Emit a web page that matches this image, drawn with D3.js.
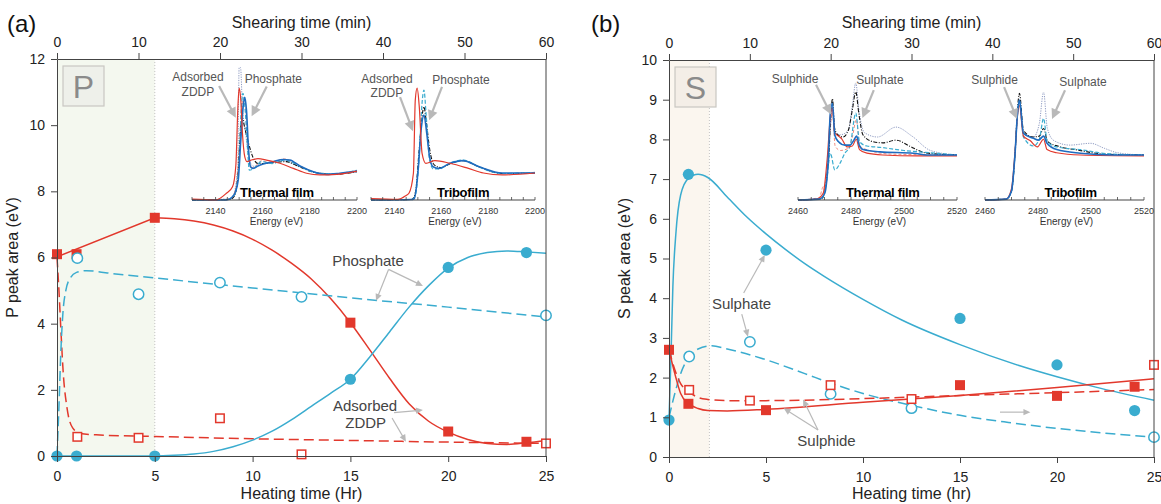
<!DOCTYPE html>
<html>
<head>
<meta charset="utf-8">
<script src="https://cdn.jsdelivr.net/npm/d3@7"></script>
<style>
  body { margin: 0; background: #fff; }
  svg { font-family: "Liberation Sans", Arial, Helvetica, sans-serif; }
</style>
</head>
<body>
<svg id="chart" width="1161" height="504"></svg>
<script>
// axis ticks
const heatTicks = [0, 5, 10, 15, 20, 25]
const shearTicks = [0, 10, 20, 30, 40, 50, 60]
const pTicks = [0, 2, 4, 6, 8, 10, 12]
const sTicks = [0, 1, 2, 3, 4, 5, 6, 7, 8, 9, 10]
const pEnergyTicks = [2140, 2160, 2180, 2200]
const sEnergyTicks = [2460, 2480, 2500, 2520]

// panel (a) P peak area, [hr, eV]
const zddpThermal = [[0, 6.1], [1, 6.1], [5, 7.2], [15, 4.03], [20, 0.74], [24, 0.43]]
const zddpTribo = [[1.04, 0.58], [4.17, 0.55], [8.33, 1.14], [12.5, 0.05], [25, 0.38]]
const phosThermal = [[0, 0], [1, 0], [5, 0], [15, 2.32], [20, 5.7], [24, 6.15]]
const phosTribo = [[1.04, 5.98], [4.17, 4.89], [8.33, 5.24], [12.5, 4.81], [25, 4.25]]

const zddpThermalFit = [[0, 6.02], [5, 7.2], [6, 7.17], [7, 7.1], [8, 6.98], [9, 6.8], [10, 6.55], [11, 6.22], [12, 5.82], [13, 5.35], [14, 4.75], [15, 4.03], [16, 3.2], [17, 2.35], [18, 1.58], [19, 1.05], [20, 0.72], [21, 0.5], [22, 0.38], [23, 0.35], [24, 0.4], [25, 0.47]]
const zddpTriboFit = [[0, 6.0], [0.1, 5.0], [0.2, 3.8], [0.32, 2.5], [0.5, 1.5], [0.8, 0.85], [1.2, 0.68], [2, 0.64], [5, 0.59], [10, 0.52], [15, 0.47], [20, 0.42], [25, 0.38]]
const phosThermalFit = [[0, 0], [5, 0], [6, 0.02], [7, 0.06], [8, 0.14], [9, 0.28], [10, 0.48], [11, 0.75], [12, 1.1], [13, 1.5], [14, 1.9], [15, 2.32], [16, 3.0], [17, 3.75], [18, 4.5], [19, 5.15], [20, 5.68], [21, 6.0], [22, 6.15], [23, 6.2], [24, 6.17], [25, 6.13]]
const phosTriboFit = [[0, 0], [0.1, 1.5], [0.2, 3.2], [0.3, 4.3], [0.45, 5.0], [0.7, 5.4], [1.0, 5.55], [1.5, 5.6], [3, 5.5], [5, 5.38], [10, 5.08], [15, 4.78], [20, 4.5], [25, 4.2]]

// panel (b) S peak area, [hr, eV]
const sulphateThermal = [[0, 0.93], [1, 7.12], [5, 5.21], [15, 3.49], [20, 2.32], [24, 1.17]]
const sulphateTribo = [[1.04, 2.53], [4.17, 2.9], [8.33, 1.59], [12.5, 1.23], [25, 0.5]]
const sulphideThermal = [[0, 2.7], [1, 1.34], [5, 1.18], [15, 1.81], [20, 1.54], [24, 1.77]]
const sulphideTribo = [[1.04, 1.69], [4.17, 1.42], [8.33, 1.81], [12.5, 1.46], [25, 2.32]]

const sulphateThermalFit = [[0, 0.93], [0.1, 2.5], [0.2, 4.3], [0.35, 5.6], [0.6, 6.6], [1.0, 7.02], [1.5, 7.12], [2, 7.04], [3, 6.55], [4, 6.05], [5, 5.62], [6, 5.23], [7, 4.87], [8, 4.55], [10, 3.97], [12, 3.45], [15, 2.83], [18, 2.31], [20, 2.02], [22, 1.76], [25, 1.43]]
const sulphateTriboFit = [[0, 1.0], [0.3, 1.6], [0.6, 2.1], [1, 2.5], [1.5, 2.72], [2.2, 2.8], [3, 2.72], [5, 2.45], [7, 2.1], [8.4, 1.85], [10, 1.6], [12.5, 1.3], [15, 1.05], [17.5, 0.87], [20, 0.72], [22.5, 0.6], [25, 0.5]]
const sulphideThermalFit = [[0, 2.7], [0.3, 2.1], [0.6, 1.6], [1, 1.35], [1.5, 1.22], [2, 1.17], [3, 1.16], [5, 1.2], [10, 1.38], [15, 1.55], [20, 1.75], [25, 1.97]]
const sulphideTriboFit = [[0, 2.7], [0.3, 2.2], [0.6, 1.85], [1, 1.65], [1.5, 1.5], [2, 1.45], [3, 1.42], [5, 1.42], [10, 1.47], [15, 1.55], [20, 1.62], [25, 1.7]]

// inset spectra, [eV, normalised absorbance]
const pThRed = [[2130, 0.03], [2140, 0], [2144.6, 0.25], [2147.2, 0.49], [2148.6, 1.28], [2149.5, 3.5], [2150, 4.14], [2150.7, 3.7], [2151.4, 2.47], [2152.4, 1.6], [2153.4, 1.42], [2155.2, 1.48], [2158, 1.53], [2161.6, 1.48], [2167.3, 1.36], [2173, 1.17], [2178.6, 0.99], [2184.3, 0.93], [2191.4, 0.95], [2200, 1.07]]
const pThBlue = [[2130, 0], [2144.6, 0], [2147.7, 0.18], [2149.6, 0.74], [2150.7, 2.22], [2151.7, 3.46], [2152.4, 3.8], [2153.1, 3.33], [2154, 1.85], [2154.8, 1.23], [2155.9, 1.17], [2158, 1.26], [2160.2, 1.33], [2164.4, 1.42], [2168.7, 1.5], [2171.5, 1.48], [2175.8, 1.26], [2181.5, 1.05], [2187.2, 0.95], [2192.8, 0.99], [2200, 1.07]]
const pThCyan = [[2130, 0], [2145, 0.02], [2148, 0.2], [2149.8, 1.2], [2150.8, 3.2], [2151.6, 3.95], [2152.5, 3.4], [2153.5, 2.0], [2154.3, 1.11], [2156, 1.15], [2159.5, 1.42], [2164, 1.35], [2169.4, 1.48], [2175, 1.28], [2182, 1.02], [2190, 0.97], [2200, 1.1]]
const pThBlack = [[2130, 0], [2146, 0.02], [2148, 0.15], [2149.5, 0.9], [2150.5, 2.5], [2151.3, 3.05], [2152.3, 2.7], [2154, 2.1], [2156, 1.55], [2158, 1.35], [2162, 1.35], [2166, 1.4], [2170, 1.42], [2175, 1.25], [2182, 1.02], [2190, 0.95], [2200, 1.05]]
const pThGray = [[2130, 0], [2147, 0.05], [2149.4, 1.2], [2150, 4.9], [2150.6, 4.9], [2151.4, 3.4], [2152.6, 2.6], [2154, 1.6], [2156, 1.25], [2160, 1.35], [2168, 1.45], [2176, 1.22], [2186, 0.96], [2200, 1.05]]
const pThPink = [[2130, 0], [2146, 0.03], [2148.5, 0.4], [2150.5, 2.4], [2151.8, 3.75], [2152.6, 3.6], [2153.6, 2.2], [2154.6, 1.3], [2156, 1.2], [2159.5, 1.45], [2163, 1.38], [2169, 1.52], [2175, 1.3], [2182, 1.03], [2190, 0.96], [2200, 1.08]]

const pTrRed = [[2130, 0.05], [2141.4, 0.02], [2145, 0.17], [2146.2, 0.25], [2148.1, 0.99], [2148.9, 3.7], [2149.7, 4.14], [2150.6, 3.46], [2151.8, 1.73], [2153.4, 1.36], [2157.3, 1.46], [2163.7, 1.36], [2171.6, 1.17], [2178, 1.0], [2186, 0.93], [2200, 1.0]]
const pTrBlue = [[2130, 0], [2147, 0.02], [2148.5, 0.05], [2150, 1.0], [2151.5, 2.7], [2152.6, 3.15], [2153.8, 2.47], [2155, 1.6], [2156.5, 1.23], [2158.9, 1.17], [2163.7, 1.36], [2169.2, 1.46], [2176.2, 1.23], [2186, 1.0], [2200, 1.0]]
const pTrCyan = [[2130, 0], [2147.5, 0.02], [2149, 0.2], [2150.5, 1.5], [2151.8, 3.6], [2152.6, 4.07], [2153.5, 3.2], [2155, 1.5], [2156.6, 1.15], [2159, 1.15], [2164, 1.38], [2169.5, 1.48], [2176, 1.22], [2186, 0.98], [2200, 1.02]]
const pTrBlack = [[2130, 0], [2147.5, 0.02], [2149, 0.3], [2150.5, 1.8], [2151.8, 3.1], [2152.6, 3.45], [2153.6, 2.9], [2155, 1.9], [2157, 1.3], [2160, 1.2], [2164, 1.35], [2169.5, 1.46], [2176, 1.23], [2186, 0.98], [2200, 1.0]]

const sThBlue = [[2460, 0], [2468, 0.02], [2470.1, 0.15], [2471.4, 0.89], [2472.2, 1.93], [2473, 2.15], [2473.9, 1.44], [2475.2, 1.3], [2477.7, 1.22], [2479.6, 1.22], [2481.1, 1.33], [2482.1, 1.42], [2483.1, 1.22], [2484.6, 1.12], [2491, 1.07], [2503.6, 1.04], [2508.6, 1.0], [2520, 1.0]]
const sThRed = [[2460, 0], [2467, 0.02], [2469.5, 0.15], [2471, 0.9], [2472.3, 1.9], [2473, 2.05], [2473.8, 1.5], [2475.3, 1.42], [2476.5, 1.36], [2478.5, 1.18], [2480.5, 1.2], [2482, 1.35], [2483.2, 1.12], [2486, 1.04], [2492, 1.0], [2505, 0.98], [2520, 0.98]]
const sThBlack = [[2460, 0], [2469, 0.03], [2471.5, 0.9], [2472.5, 2.0], [2473, 2.25], [2473.8, 1.6], [2475, 1.45], [2477, 1.4], [2479, 1.55], [2480.5, 2.0], [2481.8, 2.4], [2483, 1.9], [2484.5, 1.45], [2488, 1.3], [2492, 1.27], [2497, 1.33], [2502, 1.2], [2508, 1.05], [2520, 1.0]]
const sThGray = [[2460, 0], [2469, 0.03], [2471.5, 0.8], [2472.5, 1.8], [2473.2, 2.0], [2474, 1.5], [2476, 1.45], [2479, 1.55], [2480.5, 2.1], [2481.8, 2.6], [2483, 2.0], [2485, 1.5], [2490, 1.4], [2497, 1.62], [2503, 1.42], [2510, 1.1], [2520, 1.0]]
const sThCyan = [[2460, 0], [2469, 0.03], [2471, 0.5], [2472.2, 1.04], [2473.9, 0.67], [2475.8, 0.81], [2477.7, 1.04], [2479.6, 1.19], [2481.8, 1.93], [2483.2, 1.3], [2486, 1.2], [2491, 1.17], [2500, 1.1], [2510, 1.05], [2520, 1.0]]
const sThPink = [[2460, 0], [2468, 0.05], [2469.5, 0.3], [2470.5, 0.32], [2471.5, 1.0], [2472.5, 1.8], [2473, 2.0], [2474, 1.2], [2476, 1.1], [2479, 1.15], [2480.5, 1.4], [2482, 1.78], [2483.3, 1.2], [2487, 1.1], [2495, 1.02], [2520, 1.0]]

const sTrBlue = [[2460, 0], [2468, 0.02], [2470, 0.2], [2471.3, 1.0], [2472.3, 1.95], [2473, 2.22], [2474.5, 1.48], [2478.3, 1.37], [2480.2, 1.33], [2482.1, 1.42], [2483.4, 1.26], [2487.1, 1.12], [2496, 1.04], [2508.6, 1.0], [2520, 1.0]]
const sTrRed = [[2460, 0], [2468, 0.02], [2470, 0.25], [2471.3, 1.05], [2472.3, 1.9], [2473, 2.1], [2474.5, 1.42], [2477, 1.32], [2479.8, 1.18], [2482.1, 1.35], [2483.4, 1.12], [2487, 1.05], [2496, 1.0], [2520, 0.98]]
const sTrBlack = [[2460, 0], [2468, 0.02], [2470, 0.2], [2471.3, 1.0], [2472.3, 2.05], [2473, 2.37], [2474.5, 1.55], [2478, 1.4], [2480.5, 1.42], [2482.1, 1.59], [2483.6, 1.3], [2488, 1.19], [2495, 1.11], [2505, 1.02], [2520, 1.0]]
const sTrGray = [[2460, 0], [2468, 0.02], [2470, 0.2], [2471.3, 0.95], [2472.3, 1.9], [2473, 2.2], [2474.5, 1.5], [2478.3, 1.4], [2480.5, 1.7], [2482.1, 2.4], [2483.5, 1.6], [2486, 1.32], [2492, 1.22], [2499.8, 1.26], [2505, 1.15], [2510, 1.05], [2520, 1.0]]
const sTrCyan = [[2460, 0], [2468, 0.02], [2470, 0.2], [2471.3, 1.0], [2472.3, 1.95], [2473, 2.2], [2474.5, 1.4], [2478.3, 1.2], [2480.5, 1.35], [2482.1, 1.81], [2483.5, 1.3], [2487, 1.18], [2496, 1.12], [2506, 1.03], [2520, 1.0]]

const red = '#e2382c', cyan = '#3aaccf', blue = '#1f6cc0', ink = '#111', dots = '#8d9ac2', pink = '#f08b80'
const arrowGray = '#b9b9b9'

let svg = d3.select('#chart')

function arrow(g, x1, y1, x2, y2, w, hl, hw){
  let dx = x2 - x1, dy = y2 - y1, len = Math.hypot(dx, dy)
  let ux = dx / len, uy = dy / len
  let bx = x2 - ux * hl, by = y2 - uy * hl
  g.append('line')
    .attr('x1', x1).attr('y1', y1).attr('x2', bx + ux).attr('y2', by + uy)
    .attr('stroke', arrowGray).attr('stroke-width', w)
  g.append('polygon')
    .attr('points', [[x2, y2], [bx - uy * hw, by + ux * hw], [bx + uy * hw, by - ux * hw]].map(function(p){ return p.join(',') }).join(' '))
    .attr('fill', arrowGray)
}

function drawInset(g, c){
  let ix = d3.scaleLinear().domain(c.domain).range([c.x0, c.x1])
  let iy = d3.scaleLinear().domain([0, c.yMax]).range([200, 65])
  let line = d3.line().x(function(d){ return ix(d[0]) }).y(function(d){ return iy(d[1]) }).curve(d3.curveMonotoneX)

  c.series.forEach(function(s){
    g.append('path')
      .attr('d', line(s.data))
      .attr('fill', 'none')
      .attr('stroke', s.color)
      .attr('stroke-width', s.width || 1.2)
      .attr('stroke-dasharray', s.dash || null)
  })

  let ax = g.append('g').attr('transform', 'translate(0,200)')
  ax.append('line').attr('x1', c.x0).attr('x2', c.x1).attr('stroke', '#444').attr('stroke-width', 1)
  d3.range(c.domain[0], c.domain[1] + 0.1, 5).forEach(function(t){
    ax.append('line').attr('x1', ix(t)).attr('x2', ix(t)).attr('y1', 0).attr('y2', -3).attr('stroke', '#444').attr('stroke-width', 0.8)
  })
  c.ticks.forEach(function(t){
    ax.append('text').attr('x', ix(t)).attr('y', 14).attr('text-anchor', 'middle')
      .style('font-size', '9px').style('fill', '#333').text(t)
  })
  g.append('text').attr('x', (c.x0 + c.x1) / 2 + 2).attr('y', 225).attr('text-anchor', 'middle')
    .style('font-size', '10px').style('fill', '#333').text('Energy (eV)')
  g.append('text').attr('x', ix(c.titleAt)).attr('y', 197).attr('text-anchor', 'middle')
    .style('font-size', '13px').style('font-weight', 'bold').style('fill', '#000')
    .style('letter-spacing', '-0.3px').text(c.title)

  c.labels.forEach(function(l){
    g.append('text').attr('x', ix(l[0])).attr('y', iy(l[1]) + 4).attr('text-anchor', 'middle')
      .style('font-size', '12px').style('fill', '#555').text(l[2])
  })
  c.arrows.forEach(function(a){
    arrow(g, ix(a[0]), iy(a[1]), ix(a[2]), iy(a[3]), 2.2, 10, 5)
  })
}

function drawPanel(p){
  let g = svg.append('g')
  let x = d3.scaleLinear().domain([0, 25]).range([p.left, p.right])
  let xTop = d3.scaleLinear().domain([0, 60]).range([p.left, p.right])
  let y = d3.scaleLinear().domain([0, p.yMax]).range([p.bottom, p.top])

  // run-in region
  g.append('rect')
    .attr('x', x(0)).attr('y', y(p.yMax))
    .attr('width', x(p.shadeTo) - x(0)).attr('height', y(0) - y(p.yMax))
    .attr('fill', p.shadeFill)
  g.append('line')
    .attr('x1', x(p.shadeTo)).attr('x2', x(p.shadeTo)).attr('y1', y(p.yMax)).attr('y2', y(0))
    .attr('stroke', '#b5b5b5').attr('stroke-width', 0.8).attr('stroke-dasharray', '1,2')

  // element tag
  g.append('rect')
    .attr('x', x(0) + 6).attr('y', y(p.yMax) + 7).attr('width', 41).attr('height', 40)
    .attr('fill', p.tagFill).attr('stroke', '#c9c7c2').attr('stroke-width', 1.2)
  g.append('text')
    .attr('x', x(0) + 26.5).attr('y', y(p.yMax) + 39).attr('text-anchor', 'middle')
    .style('font-size', '32px').style('fill', '#8a8a8a').text(p.tag)

  // fitted curves
  let line = d3.line().x(function(d){ return x(d[0]) }).y(function(d){ return y(d[1]) }).curve(d3.curveMonotoneX)
  p.fits.forEach(function(f){
    let path = f.kink ? line.curve(d3.curveLinear)(f.data.slice(0, f.kink + 1)) + line.curve(d3.curveMonotoneX)(f.data.slice(f.kink)).replace(/^M/, 'L') : line.curve(d3.curveMonotoneX)(f.data)
    g.append('path')
      .attr('d', path)
      .attr('fill', 'none')
      .attr('stroke', f.color)
      .attr('stroke-width', 1.5)
      .attr('stroke-dasharray', f.dash ? '10,5' : null)
  })

  // insets
  p.insets.forEach(function(c){ drawInset(g, c) })

  // markers
  p.markers.forEach(function(m){
    let sel = g.selectAll(null).data(m.data)
    if(m.shape === 'circle'){
      sel.enter().append('circle')
        .attr('cx', function(d){ return x(d[0]) })
        .attr('cy', function(d){ return y(d[1]) })
        .attr('r', m.filled ? 5.6 : 5.2)
        .attr('fill', m.filled ? m.color : '#fff')
        .attr('stroke', m.color)
        .attr('stroke-width', m.filled ? 0 : 1.5)
    } else {
      let s = m.filled ? 10 : 8.5
      sel.enter().append('rect')
        .attr('x', function(d){ return x(d[0]) - s / 2 })
        .attr('y', function(d){ return y(d[1]) - s / 2 })
        .attr('width', s).attr('height', s)
        .attr('fill', m.filled ? m.color : '#fff')
        .attr('stroke', m.color)
        .attr('stroke-width', m.filled ? 0 : 1.5)
    }
  })

  // axes
  let xAxis = g.append('g').attr('class', 'axis')
    .attr('transform', 'translate(0,' + p.bottom + ')')
    .call(d3.axisBottom(x).tickValues(heatTicks).tickSize(6).tickSizeOuter(0).tickPadding(9))
  let topAxis = g.append('g').attr('class', 'axis')
    .attr('transform', 'translate(0,' + p.top + ')')
    .call(d3.axisTop(xTop).tickValues(shearTicks).tickSize(6).tickSizeOuter(0).tickPadding(6))
  let yAxis = g.append('g').attr('class', 'axis')
    .attr('transform', 'translate(' + p.left + ',0)')
    .call(d3.axisLeft(y).tickValues(p.yTicks).tickSize(6).tickSizeOuter(0).tickPadding(6))
  g.append('line')
    .attr('x1', p.right).attr('x2', p.right).attr('y1', p.top).attr('y2', p.bottom)
    .attr('stroke', '#444').attr('stroke-width', 1)

  g.selectAll('.axis text').style('font-size', '14px').style('fill', '#222').style('font-family', null)
  g.selectAll('.axis path, .axis line').attr('stroke', '#444')

  g.append('text').attr('x', (p.left + p.right) / 2).attr('y', 28).attr('text-anchor', 'middle')
    .style('font-size', '16px').style('fill', '#222').text('Shearing time (min)')
  g.append('text').attr('x', (p.left + p.right) / 2).attr('y', 499).attr('text-anchor', 'middle')
    .style('font-size', '16px').style('fill', '#222').text(p.xTitle)
  g.append('text')
    .attr('transform', 'translate(' + (p.left - 39) + ',' + ((p.top + p.bottom) / 2) + ') rotate(-90)')
    .attr('text-anchor', 'middle')
    .style('font-size', '16px').style('fill', '#222').text(p.yTitle)
  g.append('text').attr('x', p.panelX).attr('y', 32)
    .style('font-size', '24px').style('fill', '#111').text(p.panel)

  // annotations
  p.labels.forEach(function(l){
    g.append('text').attr('x', x(l[0])).attr('y', y(l[1]) + 5).attr('text-anchor', 'middle')
      .style('font-size', '15px').style('fill', '#444').text(l[2])
  })
  p.arrows.forEach(function(a){
    arrow(g, x(a[0]), y(a[1]), x(a[2]), y(a[3]), 1.2, 7, 3.2)
  })
}

drawPanel({
  panel: '(a)', panelX: 7, tag: 'P',
  left: 57, right: 546, top: 59, bottom: 456,
  yMax: 12, yTicks: pTicks, shadeTo: 5,
  shadeFill: '#f4f8ef', tagFill: '#eef0ea',
  xTitle: 'Heating time (Hr)', yTitle: 'P peak area (eV)',
  fits: [
    {data: zddpThermalFit, color: red, kink: 1},
    {data: zddpTriboFit, color: red, dash: true},
    {data: phosThermalFit, color: cyan},
    {data: phosTriboFit, color: cyan, dash: true}
  ],
  markers: [
    {data: zddpThermal, color: red, shape: 'square', filled: true},
    {data: zddpTribo, color: red, shape: 'square', filled: false},
    {data: phosThermal, color: cyan, shape: 'circle', filled: true},
    {data: phosTribo, color: cyan, shape: 'circle', filled: false}
  ],
  labels: [[15.9, 5.89, 'Phosphate'], [15.75, 1.51, 'Adsorbed'], [15.78, 1.0, 'ZDDP']],
  arrows: [[16.95, 5.64, 18.71, 5.14], [16.95, 5.64, 16.31, 4.69], [17.23, 1.31, 18.71, 1.39], [17.13, 1.15, 17.84, 0.43]],
  insets: [
    {x0: 192, x1: 357, domain: [2130, 2200], yMax: 5, ticks: pEnergyTicks, title: 'Thermal film', titleAt: 2166,
     series: [
       {data: pThGray, color: dots, dash: '1.2,1.2', width: 1},
       {data: pThPink, color: pink, dash: '3,2', width: 1},
       {data: pThBlack, color: ink, dash: '4,1.5,1,1.5', width: 1.1},
       {data: pThCyan, color: cyan, dash: '4,2', width: 1.2},
       {data: pThBlue, color: blue, width: 1.6},
       {data: pThRed, color: red, width: 1.2}
     ],
     labels: [[2132.5, 4.55, 'Adsorbed'], [2132.5, 4.0, 'ZDDP'], [2164.5, 4.5, 'Phosphate']],
     arrows: [[2141.5, 4.22, 2148.6, 3.05], [2161.7, 4.2, 2155.3, 3.1]]},
    {x0: 371, x1: 535, domain: [2130, 2200], yMax: 5, ticks: pEnergyTicks, title: 'Tribofilm', titleAt: 2169.3,
     series: [
       {data: pTrBlack, color: ink, dash: '4,1.5,1,1.5', width: 1.1},
       {data: pTrCyan, color: cyan, dash: '4,2', width: 1.2},
       {data: pTrBlue, color: blue, width: 1.6},
       {data: pTrRed, color: red, width: 1.2}
     ],
     labels: [[2136.8, 4.5, 'Adsorbed'], [2136.8, 3.95, 'ZDDP'], [2168.4, 4.44, 'Phosphate']],
     arrows: [[2142.4, 3.81, 2147.9, 2.55], [2160.3, 4.19, 2154.8, 2.95]]}
  ]
})

drawPanel({
  panel: '(b)', panelX: 591, tag: 'S',
  left: 669, right: 1154, top: 60, bottom: 457,
  yMax: 10, yTicks: sTicks, shadeTo: 5 * 25 / 60,
  shadeFill: '#fbf6ef', tagFill: '#f4eee7',
  xTitle: 'Heating time (hr)', yTitle: 'S peak area (eV)',
  fits: [
    {data: sulphateThermalFit, color: cyan},
    {data: sulphateTriboFit, color: cyan, dash: true},
    {data: sulphideThermalFit, color: red},
    {data: sulphideTriboFit, color: red, dash: true}
  ],
  markers: [
    {data: sulphateThermal, color: cyan, shape: 'circle', filled: true},
    {data: sulphateTribo, color: cyan, shape: 'circle', filled: false},
    {data: sulphideThermal, color: red, shape: 'square', filled: true},
    {data: sulphideTribo, color: red, shape: 'square', filled: false}
  ],
  labels: [[3.74, 3.85, 'Sulphate'], [8.12, 0.4, 'Sulphide']],
  arrows: [[3.85, 4.13, 4.94, 5.09], [3.75, 3.6, 4.07, 3.03], [7.68, 0.68, 5.91, 1.23], [7.68, 0.68, 6.91, 1.45], [17.06, 1.13, 18.63, 1.13]],
  insets: [
    {x0: 798, x1: 957, domain: [2460, 2520], yMax: 3, ticks: sEnergyTicks, title: 'Thermal film', titleAt: 2492,
     series: [
       {data: sThGray, color: dots, dash: '1.2,1.2', width: 1},
       {data: sThPink, color: pink, dash: '3,2', width: 1},
       {data: sThBlack, color: ink, dash: '4,1.5,1,1.5', width: 1.1},
       {data: sThCyan, color: cyan, dash: '4,2', width: 1.2},
       {data: sThRed, color: red, width: 1.2},
       {data: sThBlue, color: blue, width: 1.6}
     ],
     labels: [[2458.9, 2.7, 'Sulphide'], [2490.9, 2.66, 'Sulphate']],
     arrows: [[2466.8, 2.56, 2472.5, 1.9], [2488.6, 2.44, 2484.3, 1.82]]},
    {x0: 985, x1: 1144, domain: [2460, 2520], yMax: 3, ticks: sEnergyTicks, title: 'Tribofilm', titleAt: 2492.3,
     series: [
       {data: sTrGray, color: dots, dash: '1.2,1.2', width: 1},
       {data: sTrBlack, color: ink, dash: '4,1.5,1,1.5', width: 1.1},
       {data: sTrCyan, color: cyan, dash: '4,2', width: 1.2},
       {data: sTrRed, color: red, width: 1.2},
       {data: sTrBlue, color: blue, width: 1.6}
     ],
     labels: [[2463.6, 2.66, 'Sulphide'], [2497, 2.63, 'Sulphate']],
     arrows: [[2467.2, 2.51, 2472.1, 1.8], [2490.2, 2.44, 2485.3, 1.8]]}
  ]
})
</script>
</body>
</html>
